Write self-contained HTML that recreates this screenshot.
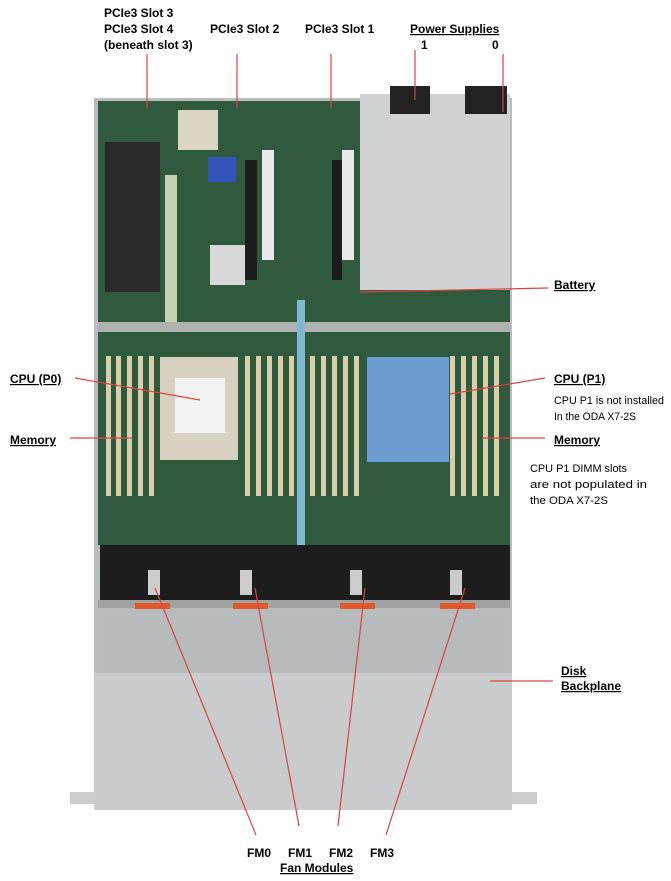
<!DOCTYPE html>
<html><head><meta charset="utf-8"><style>
html,body{margin:0;padding:0;background:#fff;}
svg{display:block}
.b{font-family:"Liberation Sans",sans-serif;font-weight:bold;font-size:12px;fill:#000}
.n{font-family:"Liberation Sans",sans-serif;font-size:11px;fill:#000}
</style></head><body>
<svg width="671" height="881" viewBox="0 0 671 881" xmlns="http://www.w3.org/2000/svg">
<rect x="94" y="98" width="418" height="712" fill="#b9bcbd"/>
<rect x="98" y="101" width="262" height="444" fill="#2f5a3e"/>
<rect x="360" y="290" width="150" height="255" fill="#2f5a3e"/>
<rect x="105" y="142" width="55" height="150" fill="#2a2a2a"/>
<rect x="178" y="110" width="40" height="40" fill="#d9d4c4"/>
<rect x="210" y="245" width="35" height="40" fill="#d8d8d8"/>
<rect x="165" y="175" width="12" height="150" fill="#c7d2b0"/>
<rect x="262" y="150" width="12" height="110" fill="#e8e8e8"/>
<rect x="342" y="150" width="12" height="110" fill="#e8e8e8"/>
<rect x="245" y="160" width="12" height="120" fill="#1c1c1c"/>
<rect x="332" y="160" width="10" height="120" fill="#1c1c1c"/>
<rect x="208" y="157" width="28" height="25" fill="#3355bb"/>
<rect x="98" y="322" width="412" height="10" fill="#aeb3b0"/>
<rect x="360" y="94" width="150" height="196" fill="#cfd1d2"/>
<rect x="390" y="86" width="40" height="28" fill="#222"/>
<rect x="465" y="86" width="42" height="28" fill="#222"/>
<rect x="160" y="357" width="78" height="103" fill="#d8d0c0"/>
<rect x="175" y="378" width="50" height="55" fill="#f2f2f2"/>
<rect x="367" y="357" width="82" height="105" fill="#6b9bcf"/>
<g fill="#d8cfa8">
<rect x="106" y="356" width="5" height="140"/><rect x="116" y="356" width="5" height="140"/><rect x="127" y="356" width="5" height="140"/><rect x="138" y="356" width="5" height="140"/><rect x="149" y="356" width="5" height="140"/>
<rect x="245" y="356" width="5" height="140"/><rect x="256" y="356" width="5" height="140"/><rect x="267" y="356" width="5" height="140"/><rect x="278" y="356" width="5" height="140"/><rect x="289" y="356" width="5" height="140"/>
<rect x="310" y="356" width="5" height="140"/><rect x="321" y="356" width="5" height="140"/><rect x="332" y="356" width="5" height="140"/><rect x="343" y="356" width="5" height="140"/><rect x="354" y="356" width="5" height="140"/>
<rect x="450" y="356" width="5" height="140"/><rect x="461" y="356" width="5" height="140"/><rect x="472" y="356" width="5" height="140"/><rect x="483" y="356" width="5" height="140"/><rect x="494" y="356" width="5" height="140"/>
</g>
<rect x="297" y="300" width="8" height="300" fill="#7fb7d4"/>
<rect x="100" y="545" width="410" height="58" fill="#1d1d1d"/>
<g fill="#cccccc"><rect x="148" y="570" width="12" height="25"/><rect x="240" y="570" width="12" height="25"/><rect x="350" y="570" width="12" height="25"/><rect x="450" y="570" width="12" height="25"/></g>
<rect x="98" y="600" width="412" height="8" fill="#9ea2a3"/>
<g fill="#e0592a"><rect x="135" y="603" width="35" height="6"/><rect x="233" y="603" width="35" height="6"/><rect x="340" y="603" width="35" height="6"/><rect x="440" y="603" width="35" height="6"/></g>
<rect x="98" y="610" width="412" height="62" fill="#b7bbbc"/>
<rect x="94" y="673" width="418" height="137" fill="#c9cbcc"/>
<rect x="70" y="792" width="25" height="12" fill="#ccc"/><rect x="512" y="792" width="25" height="12" fill="#ccc"/>
<g stroke="#e04040" stroke-width="1.2" fill="none">
<line x1="147" y1="54" x2="147" y2="108"/>
<line x1="237" y1="54" x2="237" y2="108"/>
<line x1="331" y1="54" x2="331" y2="108"/>
<line x1="415" y1="50" x2="415" y2="100"/>
<line x1="503" y1="54" x2="503" y2="112"/>
<line x1="548" y1="288" x2="360" y2="292"/>
<line x1="75" y1="378" x2="200" y2="400"/>
<line x1="70" y1="438" x2="132" y2="438"/>
<line x1="545" y1="378" x2="450" y2="394"/>
<line x1="545" y1="438" x2="482" y2="438"/>
<line x1="553" y1="681" x2="490" y2="681"/>
<line x1="256" y1="835" x2="155" y2="588"/>
<line x1="299" y1="826" x2="255" y2="588"/>
<line x1="338" y1="826" x2="365" y2="588"/>
<line x1="386" y1="835" x2="465" y2="588"/>
</g>
<text class="b" x="104" y="17">PCIe3 Slot 3</text>
<text class="b" x="104" y="33">PCIe3 Slot 4</text>
<text class="b" x="104" y="49">(beneath slot 3)</text>
<text class="b" x="210" y="33">PCIe3 Slot 2</text>
<text class="b" x="305" y="33">PCIe3 Slot  1</text>
<text class="b" x="410" y="33" text-decoration="underline">Power Supplies</text>
<text class="b" x="421" y="49">1</text>
<text class="b" x="492" y="49">0</text>
<text class="b" x="554" y="289" text-decoration="underline">Battery</text>
<text class="b" x="10" y="383" text-decoration="underline">CPU (P0)</text>
<text class="b" x="10" y="444" text-decoration="underline">Memory</text>
<text class="b" x="554" y="383" text-decoration="underline">CPU (P1)</text>
<text class="n" x="554" y="404" textLength="110" lengthAdjust="spacingAndGlyphs">CPU P1 is not installed</text>
<text class="n" x="554" y="420" textLength="82" lengthAdjust="spacingAndGlyphs">In the ODA X7-2S</text>
<text class="b" x="554" y="444" text-decoration="underline">Memory</text>
<text class="n" x="530" y="472" textLength="97" lengthAdjust="spacingAndGlyphs">CPU P1 DIMM slots</text>
<text class="n" x="530" y="488" textLength="117" lengthAdjust="spacingAndGlyphs">are not populated in</text>
<text class="n" x="530" y="504" textLength="78" lengthAdjust="spacingAndGlyphs">the ODA X7-2S</text>
<text class="b" x="561" y="675" text-decoration="underline">Disk</text>
<text class="b" x="561" y="690" text-decoration="underline">Backplane</text>
<text class="b" x="247" y="857">FM0</text>
<text class="b" x="288" y="857">FM1</text>
<text class="b" x="329" y="857">FM2</text>
<text class="b" x="370" y="857">FM3</text>
<text class="b" x="280" y="872" text-decoration="underline">Fan Modules</text>
</svg>
</body></html>
